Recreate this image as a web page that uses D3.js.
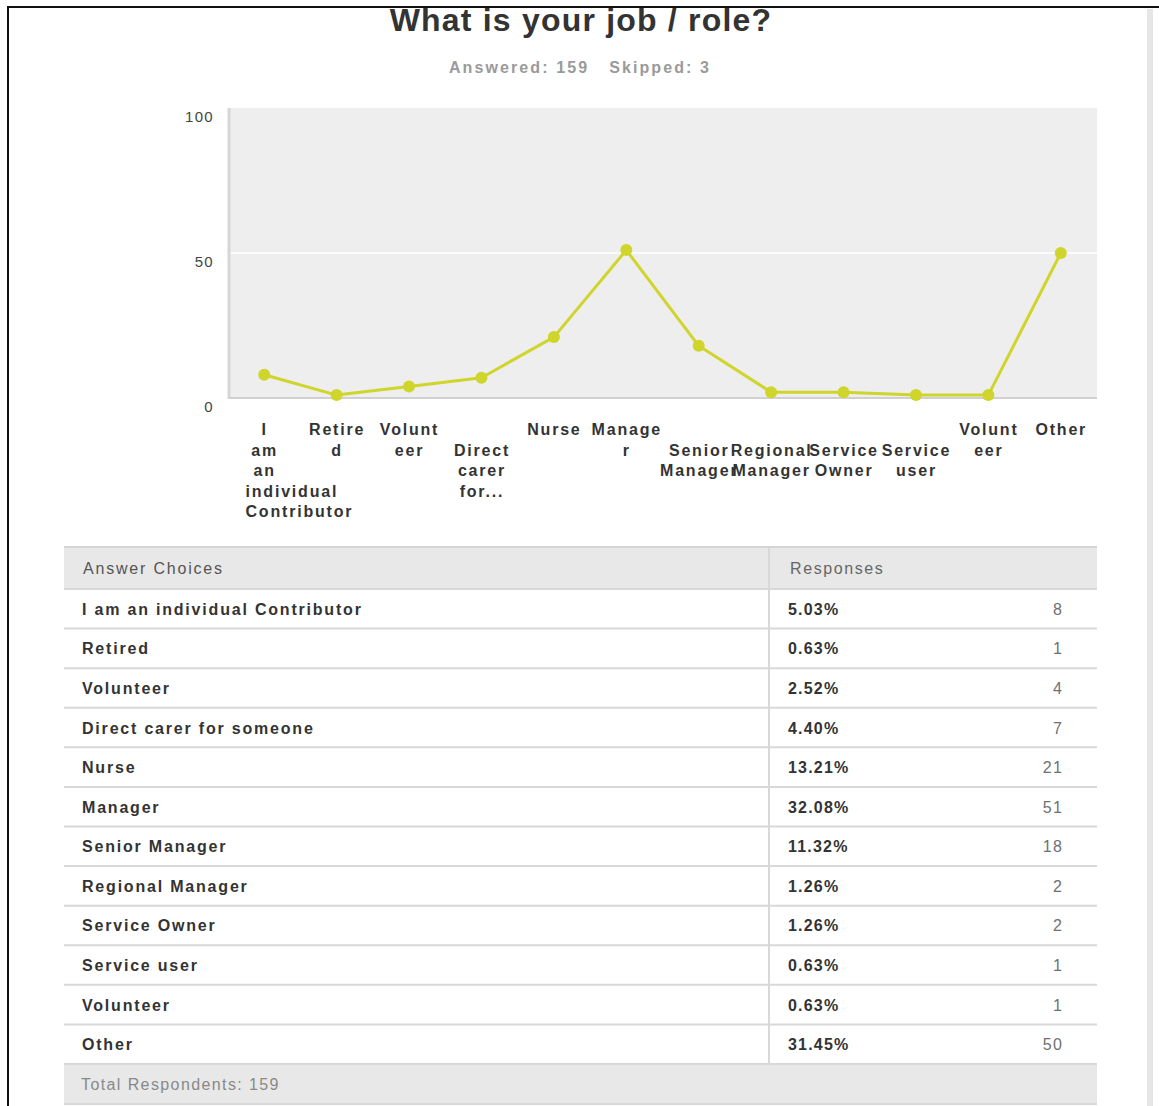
<!DOCTYPE html>
<html>
<head>
<meta charset="utf-8">
<script src="https://cdn.jsdelivr.net/npm/d3@7"></script>
<style>
  html, body { margin: 0; padding: 0; background: #fff; }
  svg { display: block; }
  text { font-family: "Liberation Sans", Arial, Helvetica, sans-serif; }
</style>
</head>
<body>
<svg id="chart" width="1159" height="1106"></svg>
<script>
// ---------- data ----------
const titleText = "What is your job / role?";
const answeredText = "Answered: 159";
const skippedText = "Skipped: 3";
const categories = [
  "I am an individual Contributor", "Retired", "Volunteer", "Direct carer for someone",
  "Nurse", "Manager", "Senior Manager", "Regional Manager", "Service Owner",
  "Service user", "Volunteer", "Other"
];
const tickLines = [
  ["I", "am", "an", "individual", "Contributor"],
  ["Retire", "d"],
  ["Volunt", "eer"],
  ["", "Direct", "carer", "for..."],
  ["Nurse"],
  ["Manage", "r"],
  ["", "Senior", "Manager"],
  ["", "Regional", "Manager"],
  ["", "Service", "Owner"],
  ["", "Service", "user"],
  ["Volunt", "eer"],
  ["Other"]
];
const counts = [8, 1, 4, 7, 21, 51, 18, 2, 2, 1, 1, 50];
const percents = ["5.03%", "0.63%", "2.52%", "4.40%", "13.21%", "32.08%", "11.32%", "1.26%", "1.26%", "0.63%", "0.63%", "31.45%"];
const yTicks = [0, 50, 100];
const headerLabels = ["Answer Choices", "Responses"];
const footerText = "Total Respondents: 159";

// ---------- layout ----------
const svg = d3.select("#chart");
const W = 1159, H = 1106;
const plot = { left: 228, right: 1097, top: 108, bottom: 398 };
const table = { left: 64, right: 1097, top: 547, headerBottom: 589, rowsBottom: 1064, footerBottom: 1104, divider: 769 };
const lineColor = "#cfd52b";
const LS = "1.8px";

// frame
svg.append("rect").attr("x", 0).attr("y", 0).attr("width", W).attr("height", H).attr("fill", "#fff");
svg.append("rect").attr("x", 1147).attr("y", 9).attr("width", 6).attr("height", H - 9).attr("fill", "#e6e6e6");
svg.append("line").attr("x1", 8).attr("x2", 8).attr("y1", 6).attr("y2", H).attr("stroke", "#111").attr("stroke-width", 2);
svg.append("line").attr("x1", 7).attr("x2", W).attr("y1", 7).attr("y2", 7).attr("stroke", "#111").attr("stroke-width", 2);

// title
svg.append("text").attr("x", 581).attr("y", 31).attr("text-anchor", "middle")
  .attr("font-size", 32).attr("font-weight", "bold").attr("fill", "#333")
  .style("letter-spacing", "1.2px").text(titleText);
const sub = svg.append("text").attr("x", 580).attr("y", 73).attr("text-anchor", "middle")
  .attr("font-size", 16).attr("font-weight", "bold").attr("fill", "#9a9a9a")
  .style("letter-spacing", "2.1px");
sub.append("tspan").text(answeredText);
sub.append("tspan").attr("dx", 20).text(skippedText);

// scales
const x = d3.scalePoint().domain(d3.range(categories.length)).range([plot.left, plot.right]).padding(0.5);
const y = d3.scaleLinear().domain([0, 100]).range([plot.bottom, plot.top]);

// plot background
svg.append("rect").attr("x", plot.left).attr("y", plot.top)
  .attr("width", plot.right - plot.left).attr("height", plot.bottom - plot.top).attr("fill", "#eeeeee");

// gridlines
svg.append("g").selectAll("line").data(yTicks.filter(d => d > 0 && d < 100)).join("line")
  .attr("x1", plot.left).attr("x2", plot.right)
  .attr("y1", d => y(d)).attr("y2", d => y(d))
  .attr("stroke", "#fff").attr("stroke-width", 1.5);

// axis lines
svg.append("line").attr("x1", plot.left + 1).attr("x2", plot.left + 1).attr("y1", plot.top).attr("y2", plot.bottom)
  .attr("stroke", "#d6d6d6").attr("stroke-width", 3);
svg.append("line").attr("x1", plot.left).attr("x2", plot.right).attr("y1", plot.bottom).attr("y2", plot.bottom)
  .attr("stroke", "#d0d0d0").attr("stroke-width", 2);

// y axis
const yAxis = svg.append("g").attr("transform", `translate(${plot.left - 14},0)`)
  .call(d3.axisLeft(y).tickValues(yTicks).tickSize(0).tickPadding(0).tickFormat(d3.format("d")));
yAxis.select(".domain").remove();
yAxis.selectAll("text").attr("font-size", 15).attr("fill", "#444").attr("dy", "0.9em")
  .style("font-family", "'Liberation Sans', Arial, sans-serif").style("letter-spacing", "1.3px");

// x axis
const xAxis = svg.append("g").attr("transform", `translate(0,${plot.bottom})`)
  .call(d3.axisBottom(x).tickSize(0).tickPadding(0).tickFormat(() => ""));
xAxis.select(".domain").remove();
xAxis.selectAll(".tick text").each(function (d) {
  const t = d3.select(this);
  t.text(null).attr("y", 0).attr("dy", null)
    .attr("font-size", 16).attr("font-weight", "bold").attr("fill", "#333")
    .style("font-family", "'Liberation Sans', Arial, sans-serif").style("letter-spacing", LS)
    .attr("text-anchor", "middle");
  tickLines[d].forEach((ln, i) => {
    t.append("tspan").attr("x", 0).attr("y", 37 + i * 20.5).text(ln);
  });
});
// keep first label's overflowing lines inside the left edge
xAxis.selectAll(".tick").filter(d => d === 0).selectAll("tspan").each(function () {
  const w = this.getComputedTextLength();
  const left = x(0) - w / 2;
  const minLeft = 245;
  if (left < minLeft) d3.select(this).attr("x", minLeft - left);
});

// line + points
const line = d3.line().x((d, i) => x(i)).y(d => y(d));
svg.append("path").datum(counts).attr("d", line)
  .attr("fill", "none").attr("stroke", lineColor).attr("stroke-width", 3).attr("stroke-linejoin", "round");
svg.append("g").selectAll("circle").data(counts).join("circle")
  .attr("cx", (d, i) => x(i)).attr("cy", d => y(d)).attr("r", 6).attr("fill", lineColor);

// ---------- table ----------
const rowScale = d3.scaleBand().domain(d3.range(categories.length))
  .range([table.headerBottom, table.rowsBottom]);
const tg = svg.append("g");
// header
tg.append("rect").attr("x", table.left).attr("y", table.top).attr("width", table.right - table.left)
  .attr("height", table.headerBottom - table.top).attr("fill", "#e8e8e8");
// footer
tg.append("rect").attr("x", table.left).attr("y", table.rowsBottom).attr("width", table.right - table.left)
  .attr("height", table.footerBottom - table.rowsBottom).attr("fill", "#e8e8e8");
// header top border
tg.append("line").attr("x1", table.left).attr("x2", table.right).attr("y1", table.top).attr("y2", table.top)
  .attr("stroke", "#d4d4d4").attr("stroke-width", 2);
// row separators
const seps = [table.headerBottom].concat(d3.range(categories.length).map(i => rowScale(i) + rowScale.bandwidth())).concat([table.footerBottom]);
tg.selectAll("line.sep").data(seps).join("line").attr("class", "sep")
  .attr("x1", table.left).attr("x2", table.right).attr("y1", d => d).attr("y2", d => d)
  .attr("stroke", "#d8d8d8").attr("stroke-width", 2);
// column divider
tg.append("line").attr("x1", table.divider).attr("x2", table.divider).attr("y1", table.top).attr("y2", table.rowsBottom)
  .attr("stroke", "#d8d8d8").attr("stroke-width", 2);

// header text
tg.append("text").attr("x", 83).attr("y", (table.top + table.headerBottom) / 2 + 6)
  .attr("font-size", 16).attr("fill", "#555").style("letter-spacing", LS).text(headerLabels[0]);
tg.append("text").attr("x", 790).attr("y", (table.top + table.headerBottom) / 2 + 6)
  .attr("font-size", 16).attr("fill", "#666").style("letter-spacing", "1.6px").text(headerLabels[1]);

// rows
const rows = tg.selectAll("g.row").data(categories).join("g").attr("class", "row")
  .attr("transform", (d, i) => `translate(0,${rowScale(i) + rowScale.bandwidth() / 2 + 6})`);
rows.append("text").attr("x", 82).attr("font-size", 16).attr("font-weight", "bold").attr("fill", "#333")
  .style("letter-spacing", LS).text(d => d);
rows.append("text").attr("x", 788).attr("font-size", 16).attr("font-weight", "bold").attr("fill", "#333")
  .style("letter-spacing", "1.2px").text((d, i) => percents[i]);
rows.append("text").attr("x", 1063).attr("text-anchor", "end").attr("font-size", 16).attr("fill", "#707070")
  .style("letter-spacing", "1.2px").text((d, i) => counts[i]);

// footer text
tg.append("text").attr("x", 81).attr("y", (table.rowsBottom + table.footerBottom) / 2 + 6)
  .attr("font-size", 16).attr("fill", "#888").style("letter-spacing", "1.4px").text(footerText);
</script>
</body>
</html>
